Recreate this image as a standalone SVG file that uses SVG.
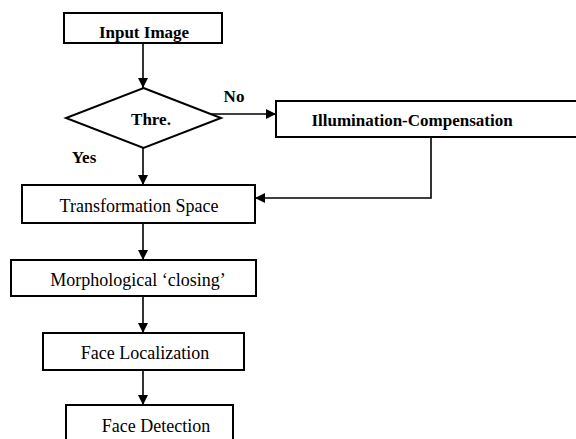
<svg xmlns="http://www.w3.org/2000/svg" width="576" height="439" viewBox="0 0 576 439">
<style>
.box{fill:#fff;stroke:#000;stroke-width:2}
.ln{fill:none;stroke:#000;stroke-width:1.6}
text{font-family:"Liberation Serif","DejaVu Serif",serif;font-size:17px;fill:#000;text-anchor:middle}
.b{font-weight:bold}
.r{font-size:18px;font-weight:normal}
</style>
<defs>
<marker id="ah" viewBox="0 0 10 10" refX="10" refY="5" markerWidth="10" markerHeight="10" markerUnits="userSpaceOnUse" orient="auto">
<path d="M0,0 L10,5 L0,10 z" fill="#000"/>
</marker>
</defs>
<g id="connectors">
<line class="ln" x1="143" y1="43" x2="143" y2="88" marker-end="url(#ah)"/>
<line class="ln" x1="211" y1="114" x2="276" y2="114" marker-end="url(#ah)"/>
<line class="ln" x1="143" y1="148" x2="143" y2="185" marker-end="url(#ah)"/>
<polyline class="ln" points="431,137 431,198 255,198" marker-end="url(#ah)"/>
<line class="ln" x1="143" y1="223" x2="143" y2="260" marker-end="url(#ah)"/>
<line class="ln" x1="143" y1="296" x2="143" y2="333" marker-end="url(#ah)"/>
<line class="ln" x1="143" y1="370" x2="143" y2="405" marker-end="url(#ah)"/>
<text class="b" x="234" y="102">No</text>
<text class="b" x="84" y="163">Yes</text>
</g>
<g id="input">
<rect class="box" x="64" y="13" width="158" height="30"/>
<text class="b" x="144" y="38">Input Image</text>
</g>
<g id="thre">
<polygon class="box" points="143.5,88 221,118 143.5,148 66,118"/>
<text class="b" x="151" y="125">Thre.</text>
</g>
<g id="illum">
<rect class="box" x="276" y="101" width="310" height="36"/>
<text class="b" x="412" y="126">Illumination-Compensation</text>
</g>
<g id="transform">
<rect class="box" x="22" y="185" width="233" height="38"/>
<text class="r" x="139" y="212">Transformation Space</text>
</g>
<g id="morph">
<rect class="box" x="11" y="260" width="245" height="36"/>
<text class="r" x="138" y="286">Morphological ‘closing’</text>
</g>
<g id="faceloc">
<rect class="box" x="43" y="333" width="201" height="37"/>
<text class="r" x="145" y="359">Face Localization</text>
</g>
<g id="facedet">
<rect class="box" x="66" y="405" width="167" height="40"/>
<text class="r" x="156" y="432">Face Detection</text>
</g>
</svg>
